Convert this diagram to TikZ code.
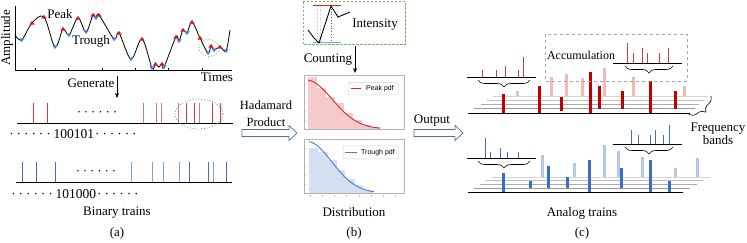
\documentclass[tikz,border=0pt]{standalone}
\usepackage{fontspec}
\setmainfont{Liberation Serif}
\newfontfamily\legfont{Liberation Sans}
\usetikzlibrary{decorations.pathreplacing,arrows.meta}
\definecolor{spkR}{HTML}{D9383A}
\definecolor{spkRl}{HTML}{E07575}
\definecolor{spkB}{HTML}{3F6FC4}
\definecolor{spkBl}{HTML}{7FA2DA}
\definecolor{barR}{HTML}{C00000}
\definecolor{barRl}{HTML}{F4B8B8}
\definecolor{barB}{HTML}{3C6CC8}
\definecolor{barBl}{HTML}{B4C8EC}
\definecolor{histR}{HTML}{F4CACA}
\definecolor{histB}{HTML}{D4DFF2}
\definecolor{curR}{HTML}{D42A2A}
\definecolor{curB}{HTML}{4A7AD0}
\definecolor{grnD}{HTML}{7DB860}
\definecolor{arrC}{HTML}{4F6E9C}
\definecolor{mkR}{HTML}{D81818}
\definecolor{mkB}{HTML}{4A84D8}
\newcommand\mydot{\textperiodcentered\kern2.9pt}
\newcommand\sixdots{\mydot\mydot\mydot\mydot\mydot\textperiodcentered}
\tikzset{
  lbl/.style={font=\fontsize{13}{15}\selectfont, inner sep=0pt},
  seqlbl/.style={font=\fontsize{13.5}{15}\selectfont, inner sep=0pt},
  leg/.style={font=\legfont\fontsize{7}{8}\selectfont, inner sep=0pt, anchor=west},
  hollow/.style={draw=arrC, fill=white, line width=0.7pt, line join=miter},
  brc/.style={decorate, decoration={brace, amplitude=#1}, draw=black, line width=0.6pt},
  chartbox/.style={draw=gray!60, line width=0.6pt},
  tip/.style={-{Stealth[length=5pt,width=4pt]}, line width=0.7pt}
}
\begin{document}
\begin{tikzpicture}[x=1pt,y=-1pt]
\useasboundingbox (0,0) rectangle (747,243);

% ================= (a) =================
\draw[line width=0.6pt] (15,6) -- (15,70) -- (232,70);
\foreach \t in {35,68,102,135,168,202} \draw[line width=0.5pt] (\t,70) -- (\t,68);
\node[lbl] (amp) [rotate=90] at (7,38) {Amplitude};
\node[lbl] (times) at (217,77.5) {Times};
\draw[line width=0.8pt] plot[smooth, tension=0.55] coordinates {(15,35) (21.7,40) (32,23) (44,17) (55,47) (63,29) (69,35) (78,18) (86,32) (93,15) (96,18) (99,15) (114,39) (119,33) (131,59) (142,39) (152,68) (155.5,64) (159,67) (162,64) (164,67) (176,37) (179,41) (183,30) (187,33) (192,22) (200,38) (208,53) (211,46) (214,50) (220,47) (226,51) (230,30)};
\foreach \x/\y in {32/23,44/17,63/29,78/18,93/15,99/15,119/33,142/39,155.5/64,162/64,176/37,183/30,192/22,200/38,211/46,220/47}
  \fill[mkR] (\x,\y) ++(-2.6,1.6) -- ++(2.6,-3.8) -- ++(2.6,3.8) -- cycle;
\foreach \x/\y in {21.7/40,55/47,69/35,86/32,96/18,114/39,131/59,152/68,164/67,179/41,187/33,208/53,214/50,226/51}
  \fill[mkB] (\x,\y) ++(-2.6,-1.6) -- ++(2.6,3.8) -- ++(2.6,-3.8) -- cycle;
\node[lbl] (peaklbl) at (60,14) {Peak};
\node[lbl] (troughlbl) at (91,41) {Trough};
\draw[grnD, dotted, line width=0.9pt] (209,48) ellipse (10 and 8.5);

\node[lbl] (gen) at (91,83) {Generate};
\coordinate (g1) at (117,76);
\coordinate (g2) at (117,98);
\draw[tip] (g1) -- (g2);

% red binary train
\draw[line width=0.9pt] (17,123) -- (233,123);
\foreach \x in {33,47,186,194,212,220} \draw[spkR, line width=1pt] (\x,123) -- (\x,103);
\foreach \x in {143,156,161,178,199} \draw[spkRl, line width=1pt] (\x,123) -- (\x,103);
\node[lbl] (rdots) at (97,114) {\sixdots};
\draw[gray, dotted, line width=0.8pt] (199,114) ellipse (24 and 15);
\node[seqlbl] (redseq) at (73,134) {\sixdots\kern2.9pt100101\kern1pt\sixdots};

% blue binary train
\draw[line width=0.9pt] (16,182) -- (232,182);
\foreach \x in {22,36,55,189,208,226} \draw[spkB, line width=1pt] (\x,182) -- (\x,162);
\foreach \x in {131,152,163,179,213} \draw[spkBl, line width=1pt] (\x,182) -- (\x,162);
\node[lbl] (bdots) at (96,173) {\sixdots};
\node[seqlbl] (blueseq) at (75,194) {\sixdots\kern2.9pt101000\kern1pt\sixdots};

\node[lbl] (bintr) at (117,213) {Binary trains};
\node[lbl] (pa) at (117,233) {(a)};

% ================= (b) =================
\node[lbl, font=\fontsize{12.5}{14}\selectfont] (had) at (266,105) {Hadamard};
\node[lbl, font=\fontsize{12.5}{14}\selectfont] (prod) at (266,122) {Product};
\coordinate (h0) at (242,133);
\draw[hollow] (h0) ++(0,-3.5) -- ++(47,0) -- ++(0,-4) -- ++(8,7.5) -- ++(-8,7.5) -- ++(0,-4) -- ++(-47,0) -- cycle;

\draw[grnD, dashed, dash pattern=on 2.5pt off 1.5pt, line width=1pt] (303,2) rectangle (405,45);
\draw[spkBl!70, dotted, line width=0.7pt] (317,6) -- (317,43);
\draw[spkBl!70, dotted, line width=0.7pt] (320,6) -- (320,43);
\draw[spkBl!70, dotted, line width=0.7pt] (337,6) -- (337,17);
\draw[curR, dotted, line width=0.8pt] (331,6) -- (331,43);
\draw[curR, line width=1pt] (313,5.7) -- (341,5.7);
\draw[spkBl, line width=1pt] (313,42.7) -- (341,42.7);
\draw[line width=0.9pt] (308,30) -- (314,38) -- (319,43) -- (331,6) -- (338,17) -- (350,12);
\node[lbl] (inten) at (375,25) {Intensity};

\node[lbl] (count) at (328,60) {Counting};
\coordinate (c1) at (355,46);
\coordinate (c2) at (355,73);
\draw[tip] (c1) -- (c2);

% top chart
\foreach \i/\t in {0/77,1/88,2/97,3/103,4/113,5/120,6/125,7/127}
  \fill[histR] (308+\i*9,129) rectangle (317+\i*9,\t);
\draw[curR, line width=0.9pt] plot[domain=308:380, samples=50] (\x,{129-49*exp(-1*pow((\x-306)/37,2))});
\foreach \y in {84,93,102,111,120} \draw[gray!40, line width=0.4pt] (304,\y) -- (306,\y);
\draw[chartbox] (304,75) rectangle (404,129.3);
\draw[gray!35, line width=0.5pt, rounded corners=1pt] (348,82.7) rectangle (398,95);
\draw[curR, line width=1pt] (351,89) -- (361,89);
\node[leg] (legP) at (366,89) {Peak pdf};

% bottom chart
\foreach \a/\b/\t in {309/318/148,318/328/152,328/337/160,337/345/170,345/355/179,355/363/185,363/373/190}
  \fill[histB] (\a,193) rectangle (\b,\t);
\draw[curB, line width=0.9pt] plot[domain=309:374, samples=50] (\x,{193-51.5*exp(-1*pow((\x-307)/35,2))});
\foreach \y in {148,157,166,175,184} \draw[gray!40, line width=0.4pt] (304,\y) -- (306,\y);
\foreach \k in {0,...,7} \draw[gray!50, line width=0.4pt] (310+12.2*\k,194.5) -- (310+12.2*\k,196.5);
\draw[chartbox] (304,139.3) rectangle (404,193.3);
\draw[gray!35, line width=0.5pt, rounded corners=1pt] (343,146) rectangle (398,159);
\draw[curB, line width=1pt] (345,152.7) -- (357,152.7);
\node[leg] (legT) at (361,152.7) {Trough pdf};

\node[lbl] (dist) at (354,212) {Distribution};
\node[lbl] (pb) at (354,233) {(b)};

\node[lbl] (out) at (432,121) {Output};
\coordinate (o0) at (414,133);
\draw[hollow] (o0) ++(0,-3.5) -- ++(41,0) -- ++(0,-4) -- ++(8,7.5) -- ++(-8,7.5) -- ++(0,-4) -- ++(-41,0) -- cycle;

% ================= (c) =================
% red bands
\foreach \i/\c in {0/gray!35,1/gray!50,2/gray!65,3/gray!80,4/black}
  \draw[\c, line width=0.9pt] (493-6.25*\i,96+4.25*\i) -- (708-4.5*\i,96+4.25*\i);
\foreach \x/\b/\t in {517/96/91,551/96/77,566/96/74,582/96/78,604/96/68,633/96/77,684/96/86}
  \draw[barRl, line width=3pt] (\x,\b) -- (\x,\t);
\foreach \x/\b/\t in {503/113/94,539/113/86,561/111.5/97,590/113/72,599/108.7/86,622/108.7/91,650/113/81,675/108.7/91}
  \draw[barR, line width=3pt] (\x,\b) -- (\x,\t);
\draw[brc=9] (711,96) -- (689,114.5);
\node[lbl, align=center] (freq) at (718,134) {Frequency\\[-2pt]bands};

% red insets
\draw[line width=0.8pt] (467,77) -- (536,77);
\foreach \x/\t in {482/70,496/70,505/66,518/70,523/57} \draw[spkR, line width=1pt] (\x,77) -- (\x,\t);
\draw[brc=7] (530,80) -- (478,80);

\draw[gray!70, dashed, line width=0.7pt] (545,34) rectangle (687,81);
\node[lbl, font=\fontsize{12}{14}\selectfont] (accum) at (581,55) {Accumulation};
\draw[line width=0.8pt] (613,63) -- (682,63);
\foreach \x/\t in {627/43,633/53,642/48,647/53,659/53,668/48} \draw[spkR, line width=1pt] (\x,63) -- (\x,\t);
\draw[brc=7] (673,66) -- (625,66);

% blue bands
\foreach \i/\c in {0/gray!35,1/gray!50,2/gray!65,3/gray!80,4/black}
  \draw[\c, line width=0.9pt] (492-6*\i,177+3.75*\i) -- (710-6.75*\i,177+3.75*\i);
\foreach \x/\b/\t in {542/177/155,574/177/163,604/177/145,618/177/151,642/177/157,675/177/168,697/177/158}
  \draw[barBl, line width=3pt] (\x,\b) -- (\x,\t);
\foreach \x/\b/\t in {503/192/173,530/188.25/181,548/188.25/166,567/188.25/177,589/192/160,621/188.25/168,650/192/160,669/192/181}
  \draw[barB, line width=3pt] (\x,\b) -- (\x,\t);

% blue insets
\draw[line width=0.8pt] (467,158) -- (536,158);
\foreach \x/\t in {485/138,490/152,500/148,507/152,518/152} \draw[spkB, line width=1pt] (\x,158) -- (\x,\t);
\draw[brc=7] (530,161) -- (478,161);
\draw[line width=0.8pt] (613,144) -- (682,144);
\foreach \x/\t in {631/130,638/135,650/135,655/130,663/135,669/125} \draw[spkB, line width=1pt] (\x,144) -- (\x,\t);
\draw[brc=7] (673,147) -- (625,147);

\node[lbl] (analog) at (582,213) {Analog trains};
\node[lbl] (pc) at (582,233) {(c)};
\end{tikzpicture}
\end{document}
